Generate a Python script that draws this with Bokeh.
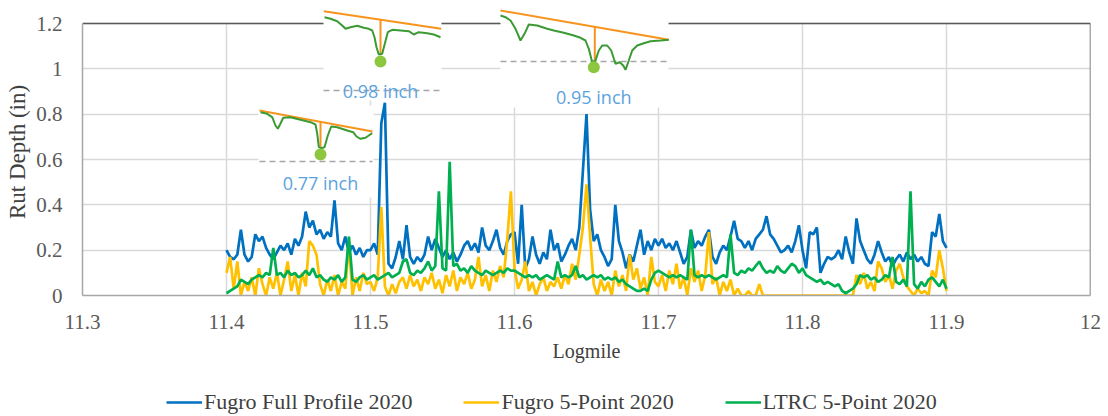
import numpy as np
from bokeh.plotting import figure
from bokeh.layouts import column
from bokeh.models import Range1d, FixedTicker, Legend, LegendItem
from bokeh.core.properties import value
from bokeh.embed import file_html
from bokeh.resources import INLINE

# ---------------- data ----------------
logmile = np.round(np.linspace(11.4, 11.9, 201), 4)

fugro_full_profile_2020 = [
    0.20, 0.17, 0.16, 0.18, 0.29, 0.18, 0.15, 0.17, 0.27, 0.24, 0.26, 0.21, 0.18, 0.16, 0.19, 0.22, 0.20, 0.23, 0.18, 0.25,
    0.22, 0.26, 0.37, 0.30, 0.33, 0.27, 0.29, 0.25, 0.28, 0.26, 0.42, 0.23, 0.20, 0.26, 0.19, 0.22, 0.18, 0.21, 0.17, 0.20,
    0.20, 0.23, 0.18, 0.76, 0.85, 0.14, 0.12, 0.17, 0.24, 0.16, 0.31, 0.17, 0.14, 0.17, 0.15, 0.18, 0.26, 0.20, 0.25, 0.21,
    0.17, 0.20, 0.16, 0.19, 0.15, 0.18, 0.22, 0.24, 0.20, 0.23, 0.19, 0.30, 0.22, 0.20, 0.24, 0.29, 0.21, 0.18, 0.24, 0.27,
    0.28, 0.14, 0.40, 0.12, 0.16, 0.26, 0.18, 0.14, 0.19, 0.16, 0.29, 0.20, 0.23, 0.15, 0.18, 0.22, 0.25, 0.20, 0.30, 0.55,
    0.80, 0.38, 0.24, 0.27, 0.20, 0.17, 0.13, 0.16, 0.40, 0.24, 0.19, 0.12, 0.18, 0.15, 0.22, 0.29, 0.18, 0.24, 0.20, 0.25,
    0.22, 0.25, 0.21, 0.23, 0.20, 0.24, 0.19, 0.14, 0.17, 0.29, 0.21, 0.24, 0.22, 0.26, 0.29, 0.17, 0.14, 0.19, 0.22, 0.20,
    0.26, 0.33, 0.25, 0.24, 0.21, 0.24, 0.20, 0.25, 0.27, 0.29, 0.35, 0.27, 0.25, 0.22, 0.19, 0.20, 0.22, 0.19, 0.24, 0.31,
    0.20, 0.12, 0.28, 0.27, 0.30, 0.10, 0.14, 0.17, 0.16, 0.17, 0.20, 0.16, 0.26, 0.19, 0.14, 0.34, 0.24, 0.20, 0.16, 0.14,
    0.18, 0.24, 0.19, 0.15, 0.17, 0.13, 0.16, 0.18, 0.15, 0.19, 0.16, 0.18, 0.15, 0.17, 0.14, 0.13, 0.28, 0.26, 0.36, 0.24,
    0.21,
]

fugro_5point_2020 = [
    0.10, 0.17, 0.03, 0.15, 0.00, 0.06, 0.02, 0.08, 0.00, 0.12, 0.05, 0.00, 0.08, 0.03, 0.10, 0.00, 0.07, 0.15, 0.02, 0.09,
    0.00, 0.10, 0.04, 0.24, 0.22, 0.18, 0.05, 0.00, 0.07, 0.02, 0.09, 0.00, 0.06, 0.03, 0.23, 0.00, 0.08, 0.02, 0.10, 0.05,
    0.06, 0.02, 0.08, 0.39, 0.04, 0.00, 0.05, 0.01, 0.06, 0.08, 0.03, 0.09, 0.04, 0.07, 0.02, 0.08, 0.05, 0.10, 0.03, 0.07,
    0.01, 0.09, 0.04, 0.11, 0.02, 0.08, 0.05, 0.10, 0.03, 0.07, 0.17, 0.04, 0.09, 0.02, 0.11, 0.06, 0.13, 0.08, 0.25, 0.46,
    0.12, 0.03, 0.07, 0.15, 0.02, 0.06, 0.00, 0.05, 0.08, 0.02, 0.06, 0.04, 0.08, 0.03, 0.09, 0.05, 0.14, 0.07, 0.18, 0.30,
    0.49, 0.26, 0.05, 0.00, 0.07, 0.02, 0.06, 0.00, 0.11, 0.04, 0.09, 0.02, 0.18, 0.07, 0.12, 0.03, 0.08, 0.00, 0.17, 0.06,
    0.04, 0.09, 0.02, 0.11, 0.05, 0.14, 0.03, 0.08, 0.00, 0.12, 0.06, 0.11, 0.02, 0.09, 0.28, 0.05, 0.08, 0.00, 0.06, 0.02,
    0.07, 0.00, 0.03, 0.00, 0.00, 0.02, 0.00, 0.00, 0.05, 0.00, 0.00, 0.00, 0.00, 0.00, 0.00, 0.00, 0.00, 0.00, 0.00, 0.00,
    0.00, 0.00, 0.00, 0.00, 0.00, 0.00, 0.00, 0.00, 0.00, 0.00, 0.00, 0.00, 0.00, 0.00, 0.00, 0.09, 0.05, 0.10, 0.03, 0.06,
    0.02, 0.15, 0.12, 0.06, 0.09, 0.03, 0.11, 0.14, 0.08, 0.04, 0.02, 0.00, 0.03, 0.01, 0.02, 0.00, 0.11, 0.08, 0.20, 0.12,
    0.02,
]

ltrc_5point_2020 = [
    0.01, 0.02, 0.03, 0.04, 0.07, 0.06, 0.05, 0.07, 0.08, 0.09, 0.08, 0.10, 0.09, 0.21, 0.09, 0.10, 0.08, 0.11, 0.09, 0.10,
    0.08, 0.09, 0.11, 0.09, 0.12, 0.08, 0.09, 0.07, 0.06, 0.08, 0.07, 0.09, 0.06, 0.08, 0.26, 0.07, 0.06, 0.08, 0.09, 0.07,
    0.08, 0.09, 0.07, 0.08, 0.09, 0.10, 0.08, 0.09, 0.10, 0.15, 0.16, 0.10, 0.09, 0.11, 0.10, 0.12, 0.15, 0.11, 0.13, 0.46,
    0.12, 0.11, 0.59, 0.13, 0.14, 0.11, 0.12, 0.10, 0.13, 0.11, 0.10, 0.09, 0.11, 0.10, 0.09, 0.10, 0.11, 0.10, 0.12, 0.11,
    0.11, 0.10, 0.09, 0.08, 0.09, 0.08, 0.09, 0.07, 0.08, 0.09, 0.08, 0.07, 0.15, 0.08, 0.09, 0.08, 0.09, 0.13, 0.08, 0.09,
    0.07, 0.08, 0.09, 0.08, 0.09, 0.07, 0.08, 0.07, 0.08, 0.06, 0.07, 0.05, 0.04, 0.03, 0.02, 0.02, 0.03, 0.02, 0.07, 0.10,
    0.11, 0.10, 0.09, 0.08, 0.09, 0.08, 0.09, 0.08, 0.07, 0.29, 0.09, 0.08, 0.09, 0.08, 0.09, 0.08, 0.07, 0.08, 0.09, 0.08,
    0.27, 0.10, 0.09, 0.11, 0.10, 0.12, 0.11, 0.13, 0.15, 0.12, 0.10, 0.11, 0.10, 0.13, 0.11, 0.10, 0.12, 0.14, 0.13, 0.10,
    0.12, 0.09, 0.08, 0.07, 0.06, 0.07, 0.05, 0.06, 0.05, 0.04, 0.05, 0.02, 0.01, 0.02, 0.03, 0.05, 0.09, 0.08, 0.09, 0.07,
    0.08, 0.06, 0.07, 0.09, 0.08, 0.17, 0.06, 0.05, 0.07, 0.04, 0.46, 0.05, 0.03, 0.06, 0.04, 0.07, 0.08, 0.06, 0.04, 0.07,
    0.03,
]

series_names = ["Fugro Full Profile 2020", "Fugro 5-Point 2020", "LTRC 5-Point 2020"]
series_colors = ["#0070C0", "#FFC000", "#00B050"]
series_values = [fugro_full_profile_2020, fugro_5point_2020, ltrc_5point_2020]

x_ticks = [11.3, 11.4, 11.5, 11.6, 11.7, 11.8, 11.9, 12.0]
x_tick_labels = ["11.3", "11.4", "11.5", "11.6", "11.7", "11.8", "11.9", "12"]
y_ticks = [0.0, 0.2, 0.4, 0.6, 0.8, 1.0, 1.2]
y_tick_labels = ["0", "0.2", "0.4", "0.6", "0.8", "1", "1.2"]

inset_labels = ["0.77 inch", "0.98 inch", "0.95 inch"]

# ---------------- inset illustration geometry (page pixels) ----------------
FRAME_L, FRAME_T, FRAME_B = 82, 8, 295
PX_PER_X = 1440.0
PX_PER_Y = 272.0 / 1.2


def dx(px):
    return [float(v) for v in 11.3 + (np.asarray(px, dtype=float) - FRAME_L) / PX_PER_X]


def dy(py):
    return [float(v) for v in (FRAME_B - np.asarray(py, dtype=float)) / PX_PER_Y]


insets = [
    dict(box=(258, 373, 105, 197),
         edge=[(259, 110), (372, 131)],
         profile=[(260, 111.7), (266.7, 113.3), (271.7, 116.7), (275, 125), (277.3, 128.3), (280, 123),
                  (282.7, 117.3), (290, 116.7), (300, 119.3), (310, 121.7), (315, 124), (316.7, 133),
                  (318.3, 146.7), (320.7, 147.7), (324, 146.7), (327.3, 135), (330.7, 126), (336.7, 126.7),
                  (346.7, 130), (352.7, 131.7), (356, 136), (360, 138.3), (365, 137.3), (368.3, 135),
                  (371.7, 132.7)],
         cut=(320, 121.3, 147), dot=(320, 154), dash=(259, 372, 161), text=(320, 182)),
    dict(box=(323, 441, 8, 100),
         edge=[(323.3, 10.7), (440.7, 28.3)],
         profile=[(324, 16.7), (330, 18.3), (336.7, 20.7), (341.7, 25), (345, 28.3), (350, 26.7),
                  (356.7, 25.3), (363.3, 27.3), (368.3, 28.3), (371.7, 30), (374, 36.7), (376, 46.7),
                  (378.3, 54), (381.7, 53.3), (384.3, 43.3), (387.3, 31.7), (391.7, 29.3), (400, 30),
                  (408.3, 30.7), (413.3, 34), (418.3, 31.7), (426.7, 32.7), (433.3, 34), (440, 36.7)],
         cut=(380, 19.2, 54), dot=(380, 61), dash=(323, 441, 90), text=(380, 90)),
    dict(box=(500, 668, 8, 107),
         edge=[(500, 10), (668.3, 39.3)],
         profile=[(500, 15), (505, 16.7), (510, 20), (515, 28.3), (520, 40), (524, 33.3), (528.3, 24),
                  (536.7, 25), (546.7, 28.3), (553.3, 30), (563.3, 32.3), (573.3, 35), (580, 37.3),
                  (585, 40), (588.3, 48.3), (591.7, 61.7), (595, 60), (598.3, 50), (601.7, 45),
                  (606.7, 45), (610.7, 50), (615, 63.3), (619.3, 61.7), (622.7, 65), (625, 69.3),
                  (628.3, 60), (631.7, 50), (636.7, 45), (643.3, 42.7), (650, 40.7), (660, 40),
                  (668.3, 39.3)],
         cut=(594.3, 26.4, 62), dot=(593.3, 66.7), dash=(500, 668, 61), text=(593.3, 96.7)),
]

# ---------------- main figure ----------------
SERIF = "Liberation Serif"
Y_TOP = float((FRAME_B - FRAME_T) / PX_PER_Y)
LINE_W = 2.7

p = figure(frame_width=1008, frame_height=287, x_range=Range1d(11.3, 12.0), y_range=Range1d(0.0, Y_TOP),
           output_backend="svg", toolbar_location=None,
           min_border_left=82, min_border_right=18, min_border_top=8, min_border_bottom=75)
p.outline_line_color = None
p.background_fill_color = "white"

# grid
p.xgrid.grid_line_color = None
p.ygrid.ticker = FixedTicker(ticks=y_ticks[1:])
p.ygrid.grid_line_color = "#d9d9d9"
p.ygrid.grid_line_width = 1.5
grid_x = x_ticks[1:-1]
p.segment(x0=grid_x, y0=[0.0] * len(grid_x), x1=grid_x, y1=[1.2] * len(grid_x),
          line_color="#d9d9d9", line_width=1.5)
# dark top / right border
p.segment(x0=[11.3, 12.0], y0=[1.2, 0.0], x1=[12.0, 12.0], y1=[1.2, 1.2],
          line_color="#595959", line_width=1.5)

# axes
p.xaxis.ticker = FixedTicker(ticks=x_ticks)
p.xaxis.major_label_overrides = dict(zip(x_ticks, x_tick_labels))
p.yaxis.ticker = FixedTicker(ticks=y_ticks)
p.yaxis.major_label_overrides = dict(zip(y_ticks, y_tick_labels))
p.yaxis.bounds = (0.0, 1.2)
for ax in (p.xaxis, p.yaxis):
    ax.axis_line_color = "#a6a6a6"
    ax.axis_line_width = 1.5
    ax.major_tick_line_color = None
    ax.minor_tick_line_color = None
    ax.major_label_text_font = SERIF
    ax.major_label_text_font_size = "21px"
    ax.major_label_text_color = "#595959"
    ax.axis_label_text_font = SERIF
    ax.axis_label_text_font_style = "normal"
    ax.axis_label_text_color = "#404040"
p.xaxis.major_label_standoff = 13
p.yaxis.major_label_standoff = 14
p.xaxis.axis_label = "Logmile"
p.xaxis.axis_label_text_font_size = "20px"
p.xaxis.axis_label_standoff = 8
p.yaxis.axis_label = "Rut Depth (in)"
p.yaxis.axis_label_text_font_size = "23px"
p.yaxis.axis_label_standoff = 3

# data lines
r_blue = p.line(logmile, fugro_full_profile_2020, line_color=series_colors[0], line_width=LINE_W)
r_yellow = p.line(logmile, fugro_5point_2020, line_color=series_colors[1], line_width=LINE_W)
r_green = p.line(logmile, ltrc_5point_2020, line_color=series_colors[2], line_width=LINE_W)

# insets
for ins, lab in zip(insets, inset_labels):
    l, r, t, b = ins["box"]
    p.quad(left=dx([l]), right=dx([r]), top=dy([t]), bottom=dy([b]),
           fill_color="white", line_color=None)
    x0, x1, yd = ins["dash"]
    p.line(dx([x0, x1]), dy([yd, yd]), line_color="#a6a6a6", line_width=1.5, line_dash="6 4")
    ex, ey = zip(*ins["edge"])
    p.line(dx(ex), dy(ey), line_color="#F7941D", line_width=2)
    cx, cy0, cy1 = ins["cut"]
    p.line(dx([cx, cx]), dy([cy0, cy1]), line_color="#F7941D", line_width=2)
    px_, py_ = zip(*ins["profile"])
    p.line(dx(px_), dy(py_), line_color="#3C9A34", line_width=2)
    p.scatter(dx([ins["dot"][0]]), dy([ins["dot"][1]]), size=12, fill_color="#8DC63F",
              line_color=None)
    tx, ty = ins["text"]
    p.text(x=dx([tx]), y=dy([ty]), text=[lab], text_font=value("Open Sans"),
           text_font_size="18px", text_color="#5BA3DE", text_align="center",
           text_baseline="middle")

# ---------------- legend strip (same series, plotted out of view) ----------------
pl = figure(width=1108, height=46, x_range=Range1d(0, 1), y_range=Range1d(0, 1),
            output_backend="svg", toolbar_location=None, x_axis_type=None, y_axis_type=None,
            min_border_left=0, min_border_right=0, min_border_top=0, min_border_bottom=0)
pl.outline_line_color = None
pl.xgrid.grid_line_color = None
pl.ygrid.grid_line_color = None
key_renderers = [pl.line(logmile, vals, line_color=c, line_width=LINE_W)
                 for vals, c in zip(series_values, series_colors)]

legend = Legend(items=[LegendItem(label=n, renderers=[r]) for n, r in zip(series_names, key_renderers)],
                orientation="horizontal", location=(84, 1))
legend.label_text_font = SERIF
legend.label_text_font_size = "22px"
legend.label_text_color = "#404040"
legend.glyph_width = 36
legend.glyph_height = 20
legend.label_standoff = 2
legend.spacing = 51
legend.padding = 0
legend.margin = 0
legend.border_line_color = None
legend.background_fill_alpha = 0
pl.add_layout(legend)

layout = column(p, pl, spacing=0)
open("out.html", "w").write(file_html(layout, INLINE))
